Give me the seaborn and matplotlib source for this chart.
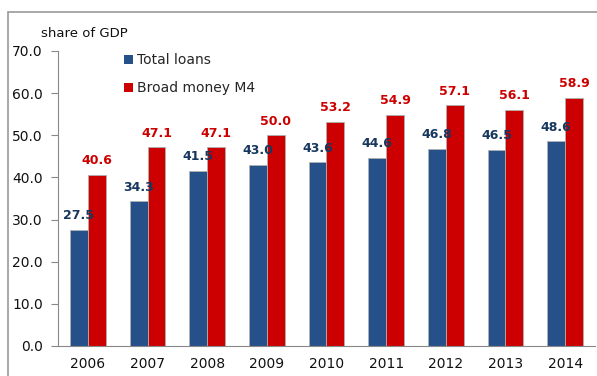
import pandas as pd
import matplotlib
matplotlib.use("Agg")
import matplotlib.pyplot as plt
import seaborn as sns
from matplotlib.patches import Rectangle

# --- data ---
years = ["2006", "2007", "2008", "2009", "2010", "2011", "2012", "2013", "2014"]
total_loans = [27.5, 34.3, 41.5, 43.0, 43.6, 44.6, 46.8, 46.5, 48.6]
broad_money = [40.6, 47.1, 47.1, 50.0, 53.2, 54.9, 57.1, 56.1, 58.9]
series_names = ["Total loans", "Broad money M4"]

df = pd.DataFrame({
    "year": years * 2,
    "value": total_loans + broad_money,
    "series": [series_names[0]] * len(years) + [series_names[1]] * len(years),
})

bar_colors = ["#26508A", "#CC0000"]
label_colors = ["#17375E", "#CC0000"]

sns.set_style("white")
plt.rcParams["font.family"] = ["DejaVu Sans"]

fig = plt.figure(figsize=(5.97, 3.76), dpi=100)
ax = fig.add_axes([0.0972, 0.0798, 0.8994, 0.7846])

sns.barplot(data=df, x="year", y="value", hue="series", palette=bar_colors,
            width=0.6, gap=0, edgecolor="#B0B0B0", linewidth=0.6,
            saturation=1, ax=ax)

# data labels
for cont, col in zip(ax.containers, label_colors):
    ax.bar_label(cont, fmt="%.1f", padding=5.5, color=col,
                 fontsize=9, fontweight="bold")

ax.set_ylim(0, 70)
ax.set_yticks(range(0, 71, 10))
ax.set_yticklabels([f"{v:.1f}" for v in range(0, 71, 10)])
ax.set_xlim(-0.5, len(years) - 0.5)
ax.set_xlabel("")
ax.set_ylabel("")

# category boundary ticks on x axis
ax.set_xticks(range(len(years)))
ax.set_xticks([i - 0.5 for i in range(len(years) + 1)], minor=True)
ax.tick_params(axis="x", which="major", length=0, pad=8, labelsize=10,
               labelcolor="#111111")
ax.tick_params(axis="x", which="minor", length=5, color="#888888", width=0.8,
               direction="out")
ax.tick_params(axis="y", length=5, color="#888888", width=0.8, pad=6,
               labelsize=10, labelcolor="#111111", left=True)

for side in ["top", "right"]:
    ax.spines[side].set_visible(False)
for side in ["left", "bottom"]:
    ax.spines[side].set_color("#888888")
    ax.spines[side].set_linewidth(0.8)

leg = ax.legend(loc="upper left", bbox_to_anchor=(0.10, 1.035), frameon=False,
                handlelength=0.6, handleheight=0.6, handletextpad=0.3,
                labelspacing=1.0, fontsize=10)
for h in leg.legend_handles:
    h.set_edgecolor("none")

fig.text(0.069, 0.91, "share of GDP", fontsize=9.5, color="#111111",
         va="center", ha="left")

# outer frame (top and left edges visible in the picture)
fig.patches.append(Rectangle((0.0135, -0.1), 1.2, 1.068, transform=fig.transFigure,
                             fill=False, edgecolor="#999999", linewidth=1.2))

fig.savefig("out.png", dpi=100)
